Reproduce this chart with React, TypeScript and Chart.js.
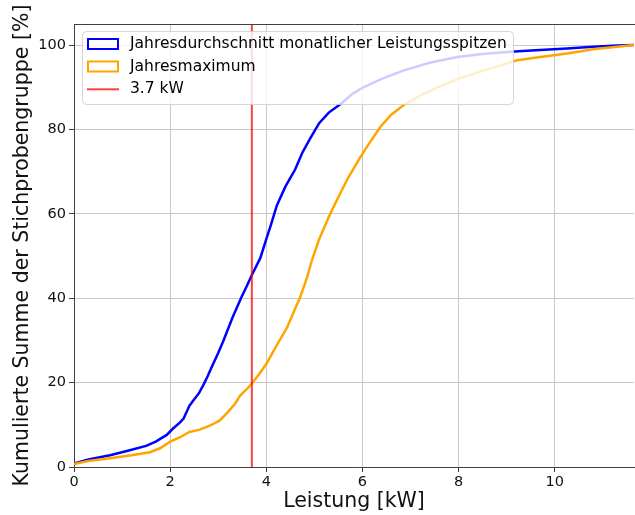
import React, { useEffect, useRef } from "react";
import { Chart, registerables } from "chart.js";

Chart.register(...registerables);

// Jahresdurchschnitt monatlicher Leistungsspitzen (kW, cumulative %)
const blueX = [0.0, 0.3, 0.75, 1.1, 1.5, 1.7, 1.93, 2.05, 2.2, 2.28, 2.4, 2.49, 2.6, 2.69, 2.78, 2.87, 3.0, 3.11, 3.3, 3.49, 3.6, 3.7, 3.875, 4.0, 4.1, 4.22, 4.4, 4.6, 4.75, 4.92, 5.1, 5.3, 5.54, 5.8, 6.02, 6.4, 6.86, 7.4, 7.97, 8.5, 9.08, 9.6, 10.26, 10.8, 11.3, 11.65];
const blueY = [0.8, 1.8, 2.8, 3.8, 5.0, 6.0, 7.6, 9.0, 10.5, 11.5, 14.5, 15.9, 17.5, 19.4, 21.5, 23.8, 27, 30, 35.5, 40.4, 43, 45.5, 49.5, 54, 57.5, 62.0, 66.5, 70.5, 74.5, 78, 81.5, 84, 86, 88.5, 90, 92, 94, 95.8, 97.2, 97.9, 98.4, 98.8, 99.2, 99.6, 99.9, 100];

// Jahresmaximum
const orangeX = [0.0, 0.3, 0.75, 1.2, 1.58, 1.8, 2.0, 2.2, 2.4, 2.6, 2.76, 2.9, 3.04, 3.2, 3.35, 3.46, 3.6, 3.7, 3.85, 4.01, 4.2, 4.43, 4.6, 4.71, 4.85, 4.95, 5.1, 5.33, 5.5, 5.7, 5.96, 6.1, 6.37, 6.6, 6.86, 7.2, 7.56, 8.0, 8.53, 9.22, 9.7, 10.26, 10.8, 11.3, 11.65];
const orangeY = [0.7, 1.4, 2.1, 2.8, 3.5, 4.5, 6.0, 7.0, 8.3, 8.8, 9.5, 10.2, 11.1, 13, 15, 17, 18.5, 19.8, 22, 24.6, 28.5, 33, 37.5, 40.4, 45, 49, 54, 60, 64, 68.5, 73.5, 76, 80.6, 83.5, 85.8, 88, 90, 92, 94, 96.4, 97.2, 98, 99, 99.6, 100];

const refValue = 3.7;
const seriesLabels = ["Jahresdurchschnitt monatlicher Leistungsspitzen", "Jahresmaximum", "3.7 kW"];
const xTitle = "Leistung [kW]";
const yTitle = "Kumulierte Summe der Stichprobengruppe [%]";
const xMin = 0;
const xMax = 11.65;
const yMin = 0;
const yMax = 105;

const FONT = "'DejaVu Sans', sans-serif";
const BLUE = "rgb(0,0,255)";
const ORANGE = "rgb(255,165,0)";
const RED = "rgba(255,0,0,0.75)";

const spinePlugin = {
  id: "spines",
  afterDatasetsDraw(chart: any) {
    const { ctx, chartArea } = chart;
    ctx.save();
    ctx.strokeStyle = "#404040";
    ctx.lineWidth = 1;
    ctx.beginPath();
    ctx.moveTo(chartArea.left, chartArea.top + 0.5);
    ctx.lineTo(chartArea.right + 1, chartArea.top + 0.5);
    ctx.stroke();
    ctx.restore();
  },
};

const legendPlugin = {
  id: "mplLegend",
  afterDraw(chart: any) {
    const { ctx } = chart;
    const bx = 82.5, by = 31.5, bw = 431, bh = 73, r = 4;
    ctx.save();
    ctx.beginPath();
    ctx.moveTo(bx + r, by);
    ctx.lineTo(bx + bw - r, by);
    ctx.arcTo(bx + bw, by, bx + bw, by + r, r);
    ctx.lineTo(bx + bw, by + bh - r);
    ctx.arcTo(bx + bw, by + bh, bx + bw - r, by + bh, r);
    ctx.lineTo(bx + r, by + bh);
    ctx.arcTo(bx, by + bh, bx, by + bh - r, r);
    ctx.lineTo(bx, by + r);
    ctx.arcTo(bx, by, bx + r, by, r);
    ctx.closePath();
    ctx.fillStyle = "rgba(255,255,255,0.8)";
    ctx.fill();
    ctx.strokeStyle = "rgba(204,204,204,0.8)";
    ctx.lineWidth = 1;
    ctx.stroke();

    const rows = [44, 66.5, 89.3];
    const colors = [BLUE, ORANGE, RED];
    ctx.font = `15.5px ${FONT}`;
    ctx.textBaseline = "middle";
    ctx.textAlign = "left";
    for (let i = 0; i < 3; i++) {
      const cy = rows[i];
      if (i < 2) {
        ctx.strokeStyle = colors[i];
        ctx.lineWidth = 2;
        ctx.strokeRect(88, cy - 5, 30, 10);
      } else {
        ctx.strokeStyle = colors[i];
        ctx.lineWidth = 2;
        ctx.beginPath();
        ctx.moveTo(87, cy);
        ctx.lineTo(119, cy);
        ctx.stroke();
      }
      ctx.fillStyle = "#000";
      ctx.fillText(seriesLabels[i], 130, cy);
    }
    ctx.restore();
  },
};

export default function App() {
  const ref = useRef<HTMLCanvasElement | null>(null);

  useEffect(() => {
    document.body.style.margin = "0";
    const canvas = ref.current!;
    const blueData = blueX.map((x, i) => ({ x, y: blueY[i] }));
    const orangeData = orangeX.map((x, i) => ({ x, y: orangeY[i] }));
    const redData = [
      { x: refValue, y: yMin },
      { x: refValue, y: yMax },
    ];

    const chart = new Chart(canvas, {
      type: "line",
      data: {
        datasets: [
          { label: seriesLabels[0], data: blueData, borderColor: BLUE, borderWidth: 2.5, pointRadius: 0, tension: 0, order: 2 },
          { label: seriesLabels[1], data: orangeData, borderColor: ORANGE, borderWidth: 2.5, pointRadius: 0, tension: 0, order: 1 },
          { label: seriesLabels[2], data: redData, borderColor: RED, borderWidth: 2, pointRadius: 0, tension: 0, order: 0 },
        ],
      },
      options: {
        animation: false,
        responsive: false,
        devicePixelRatio: 1,
        layout: { padding: { top: 24, right: 1, left: 0, bottom: 0 } },
        plugins: { legend: { display: false }, tooltip: { enabled: false } },
        scales: {
          x: {
            type: "linear",
            min: xMin,
            max: xMax,
            afterFit: (s: any) => { s.height = 48; },
            ticks: { stepSize: 2, includeBounds: false, color: "#111", font: { family: FONT, size: 14.5 }, padding: 2, maxRotation: 0 },
            grid: { color: "#c8c8c8", lineWidth: 1, tickLength: 5, tickColor: "#404040" },
            border: { color: "#404040", width: 1 },
            title: { display: true, text: xTitle, color: "#111", font: { family: FONT, size: 20.5 }, padding: { top: 0, bottom: 1 } },
          },
          y: {
            type: "linear",
            min: yMin,
            max: yMax,
            afterFit: (s: any) => { s.width = 74; },
            ticks: { stepSize: 20, includeBounds: false, color: "#111", font: { family: FONT, size: 14.5 }, padding: 3 },
            grid: { color: "#c8c8c8", lineWidth: 1, tickLength: 5, tickColor: "#404040" },
            border: { color: "#404040", width: 1 },
            title: { display: true, text: yTitle, color: "#111", font: { family: FONT, size: 20.5 }, padding: { top: 10, bottom: 0 } },
          },
        },
      },
      plugins: [spinePlugin, legendPlugin],
    });
    return () => chart.destroy();
  }, []);

  return (
    <div style={{ position: "fixed", left: 0, top: 0, width: 635, height: 515 }}>
      <canvas ref={ref} width={635} height={515} style={{ display: "block", width: 635, height: 515 }} />
    </div>
  );
}
